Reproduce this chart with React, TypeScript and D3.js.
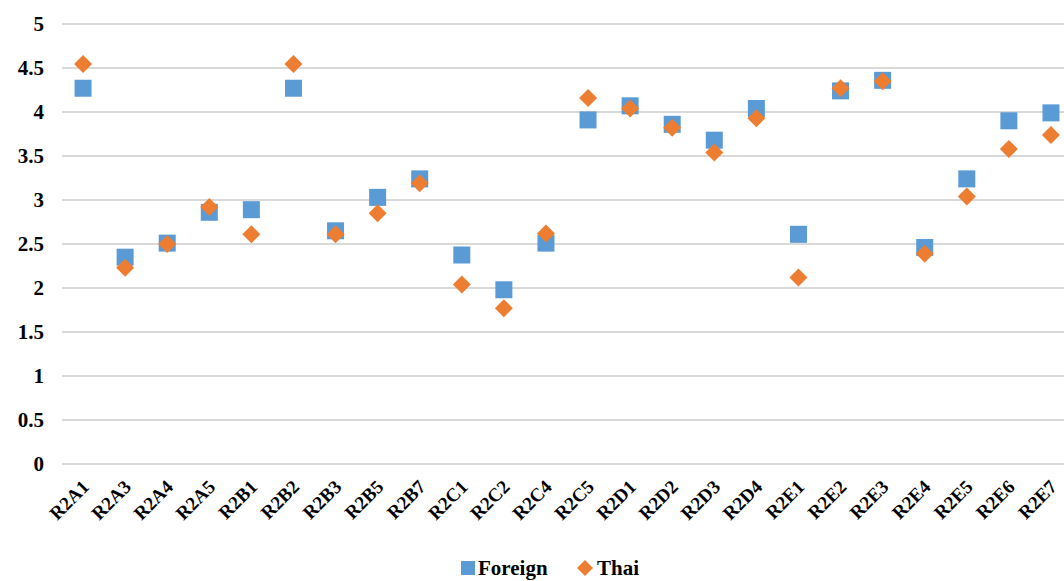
import React from "react";
import * as d3 from "d3";

const categories = ["R2A1","R2A3","R2A4","R2A5","R2B1","R2B2","R2B3","R2B5","R2B7","R2C1","R2C2","R2C4","R2C5","R2D1","R2D2","R2D3","R2D4","R2E1","R2E2","R2E3","R2E4","R2E5","R2E6","R2E7"];
const foreign = [4.27,2.35,2.51,2.86,2.89,4.27,2.65,3.03,3.24,2.375,1.98,2.51,3.91,4.07,3.86,3.68,4.04,2.61,4.24,4.36,2.46,3.24,3.90,3.99];
const thai = [4.545,2.23,2.5,2.92,2.61,4.545,2.61,2.85,3.19,2.04,1.77,2.62,4.16,4.04,3.82,3.54,3.93,2.12,4.27,4.35,2.39,3.04,3.58,3.74];
const yTicks = [0,0.5,1,1.5,2,2.5,3,3.5,4,4.5,5];

const W = 1064, H = 581;
const FONT = "'Liberation Serif', 'Times New Roman', serif";

export default function App() {
  const x = d3.scaleBand<string>().domain(categories).range([62, 1072]);
  const y = d3.scaleLinear().domain([0, 5]).range([464, 24]);
  const cx = (c: string) => (x(c) as number) + x.bandwidth() / 2;
  const s = 17;
  return (
    <svg width={W} height={H} style={{ position: "absolute", left: 0, top: 0, background: "#fff" }} fontFamily={FONT}>
      {yTicks.map(t => (
        <g key={t}>
          <line x1={62} x2={W} y1={y(t)} y2={y(t)} stroke="#d9d9d9" strokeWidth={2} />
          <text x={44} y={y(t)} dy="0.35em" textAnchor="end" fontSize={21} fontWeight="bold" fill="#000">{t}</text>
        </g>
      ))}
      {categories.map(c => (
        <text key={c} transform={`translate(${cx(c) - 3},${478}) rotate(-45)`} textAnchor="end" dy="0.75em" fontSize={19} fontWeight="bold" fill="#000">{c}</text>
      ))}
      {categories.map((c, i) => (
        <rect key={"f" + c} x={cx(c) - s / 2} y={y(foreign[i]) - s / 2} width={s} height={s} fill="#5B9BD5" />
      ))}
      {categories.map((c, i) => {
        const px = cx(c), py = y(thai[i]), r = 9;
        return <path key={"t" + c} d={`M${px},${py - r}L${px + r},${py}L${px},${py + r}L${px - r},${py}Z`} fill="#ED7D31" />;
      })}
      <g>
        <rect x={461} y={561} width={14} height={14} fill="#5B9BD5" />
        <text x={478} y={568} dy="0.35em" fontSize={21} fontWeight="bold" fill="#000">Foreign</text>
        <path d="M585,560L593,568L585,576L577,568Z" fill="#ED7D31" />
        <text x={597} y={568} dy="0.35em" fontSize={21} fontWeight="bold" fill="#000">Thai</text>
      </g>
    </svg>
  );
}
